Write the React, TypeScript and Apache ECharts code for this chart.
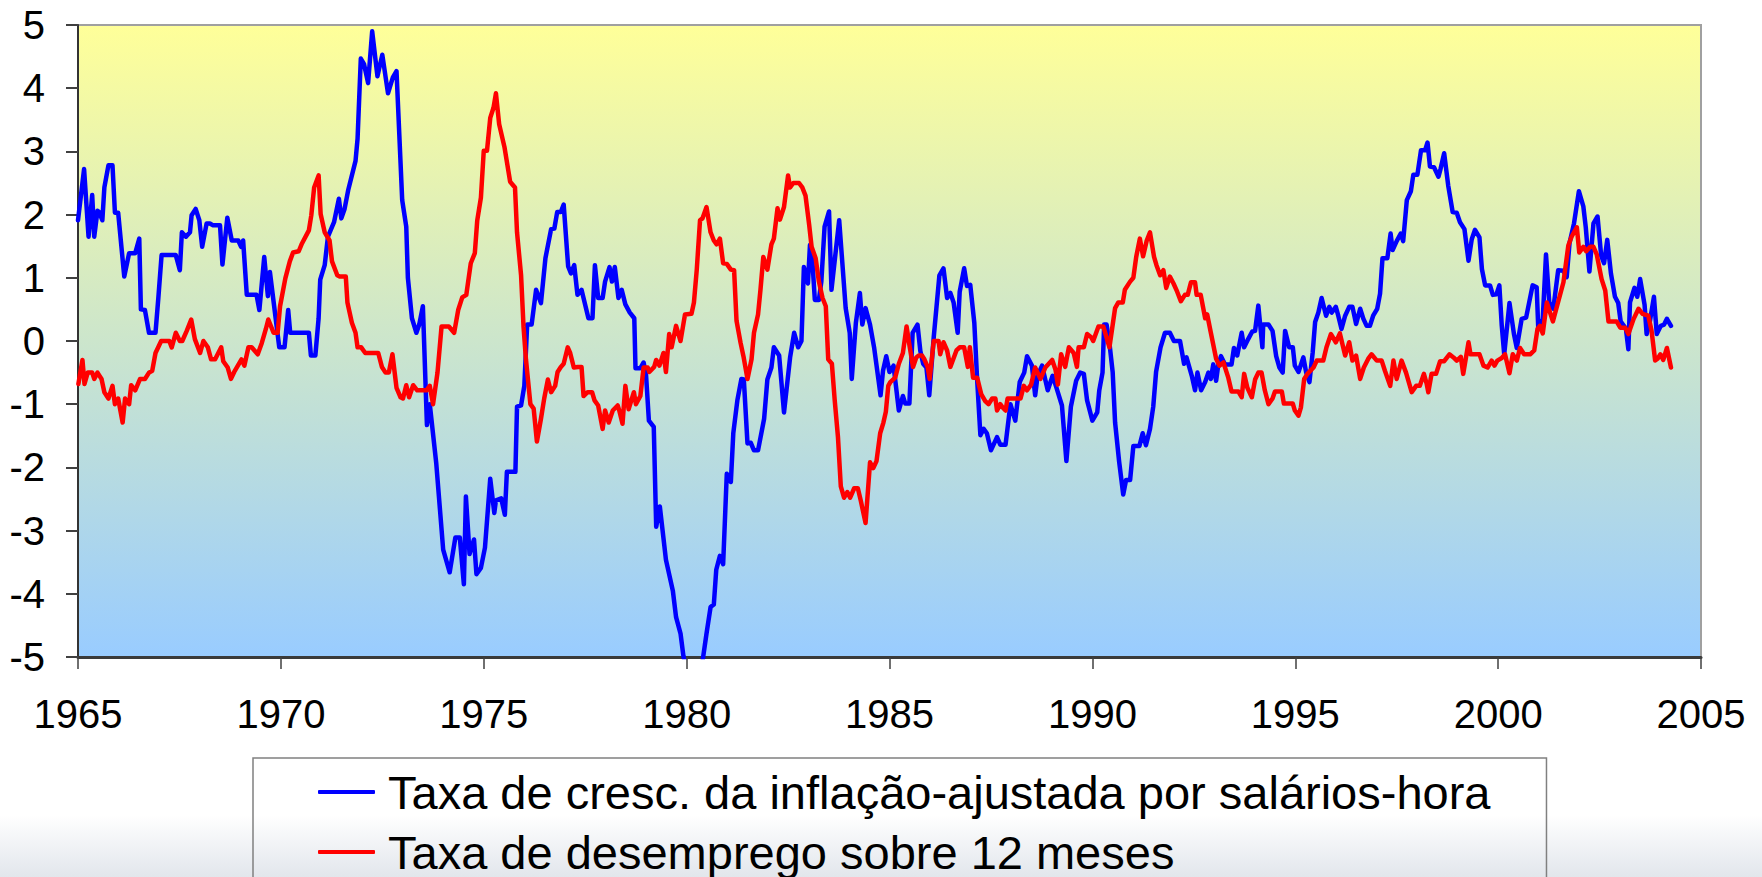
import React, { useEffect, useRef } from "react";
import * as echarts from "echarts";

// ---- Data: [year, value] ----
const wageGrowth1965: [number, number][] = [
  [1965.00,1.91],[1965.15,2.72],[1965.26,1.65],[1965.35,2.31],[1965.40,1.65],[1965.48,2.06],[1965.52,2.04],[1965.60,1.91],[1965.65,2.43],[1965.75,2.78],[1965.85,2.78],[1965.91,2.03],[1965.99,2.03],[1966.14,1.02],[1966.26,1.39],[1966.41,1.39],[1966.51,1.62],[1966.55,0.50],[1966.65,0.49],[1966.75,0.13],[1966.91,0.13],[1966.98,0.68],[1967.06,1.36],[1967.41,1.36],[1967.51,1.12],[1967.56,1.72],[1967.66,1.65],[1967.76,1.72],[1967.80,1.99],[1967.90,2.09],[1967.99,1.91],[1968.06,1.49],[1968.17,1.86],[1968.25,1.86],[1968.33,1.83],[1968.50,1.83],[1968.56,1.21],[1968.68,1.95],[1968.79,1.59],[1968.95,1.59],[1969.02,1.49],[1969.07,1.59],[1969.16,0.73],[1969.40,0.73],[1969.47,0.49],[1969.59,1.33],[1969.68,0.71],[1969.73,1.09],[1969.96,-0.10],[1970.09,-0.10],[1970.18,0.49],[1970.23,0.13],[1970.69,0.13],[1970.74,-0.23],[1970.85,-0.23],[1970.93,0.36],[1970.97,0.97],[1971.08,1.20],[1971.16,1.65],[1971.31,1.88],[1971.43,2.25],[1971.49,1.94],[1971.57,2.09],[1971.66,2.39],[1971.84,2.85],[1971.89,3.20],[1971.97,4.47],[1972.05,4.38],[1972.15,4.08],[1972.25,4.90],[1972.38,4.19],[1972.50,4.53],[1972.64,3.92],[1972.76,4.17],[1972.85,4.27],[1972.99,2.23],[1973.09,1.81],[1973.13,1.00],[1973.23,0.36],[1973.34,0.13],[1973.41,0.26],[1973.50,0.55],[1973.60,-1.33],[1973.67,-1.00],[1973.83,-1.94],[1974.00,-3.30],[1974.16,-3.66],[1974.30,-3.11],[1974.41,-3.11],[1974.51,-3.85],[1974.56,-2.46],[1974.65,-3.37],[1974.76,-3.14],[1974.82,-3.69],[1974.93,-3.59]
];
const wageGrowth1975: [number, number][] = [
  [1975.03,-3.27],[1975.16,-2.18],[1975.26,-2.72],[1975.30,-2.52],[1975.43,-2.49],[1975.52,-2.75],[1975.57,-2.07],[1975.78,-2.07],[1975.82,-1.04],[1975.92,-1.02],[1976.00,-0.71],[1976.07,0.26],[1976.18,0.26],[1976.29,0.81],[1976.41,0.60],[1976.52,1.31],[1976.66,1.77],[1976.74,1.78],[1976.81,2.04],[1976.90,2.04],[1976.97,2.16],[1977.08,1.18],[1977.15,1.07],[1977.23,1.20],[1977.31,0.73],[1977.41,0.81],[1977.58,0.36],[1977.68,0.36],[1977.74,1.20],[1977.82,0.68],[1977.93,0.68],[1977.99,0.94],[1978.10,1.17],[1978.16,0.94],[1978.23,1.17],[1978.32,0.68],[1978.40,0.81],[1978.49,0.58],[1978.60,0.45],[1978.71,0.36],[1978.74,-0.43],[1978.86,-0.43],[1978.94,-0.34],[1979.00,-0.54],[1979.07,-1.26],[1979.19,-1.36],[1979.25,-2.94],[1979.34,-2.62],[1979.49,-3.46],[1979.66,-3.95],[1979.74,-4.37],[1979.85,-4.63],[1979.92,-4.98],[1980.05,-5.4],[1980.25,-5.7],[1980.49,-4.63],[1980.59,-4.21],[1980.67,-4.17],[1980.73,-3.62],[1980.82,-3.40],[1980.90,-3.53],[1980.99,-2.10],[1981.09,-2.23],[1981.15,-1.46],[1981.25,-0.94],[1981.35,-0.60],[1981.41,-0.61],[1981.50,-1.62],[1981.58,-1.61],[1981.66,-1.73],[1981.76,-1.73],[1981.91,-1.23],[1981.99,-0.61],[1982.09,-0.42],[1982.15,-0.10],[1982.28,-0.23],[1982.40,-1.13],[1982.55,-0.26],[1982.65,0.13],[1982.75,-0.10],[1982.83,0.0],[1982.89,1.17],[1982.99,0.91],[1983.04,1.52],[1983.10,1.26],[1983.16,0.65],[1983.26,0.65],[1983.32,0.94],[1983.40,1.81],[1983.51,2.05],[1983.57,0.81],[1983.76,1.91],[1983.92,0.52],[1984.02,0.13],[1984.07,-0.60],[1984.17,0.28],[1984.27,0.76],[1984.33,0.26],[1984.41,0.52],[1984.52,0.26],[1984.62,-0.10],[1984.78,-0.86],[1984.84,-0.47],[1984.92,-0.24]
];
const wageGrowth1985: [number, number][] = [
  [1985.00,-0.49],[1985.10,-0.39],[1985.23,-1.10],[1985.33,-0.87],[1985.39,-0.99],[1985.49,-0.99],[1985.57,0.13],[1985.69,0.26],[1985.76,-0.16],[1985.83,-0.36],[1985.91,-0.42],[1985.98,-0.86],[1986.09,0.06],[1986.23,1.04],[1986.33,1.15],[1986.42,0.68],[1986.50,0.76],[1986.58,0.61],[1986.68,0.13],[1986.73,0.78],[1986.84,1.15],[1986.91,0.87],[1986.99,0.89],[1987.09,0.29],[1987.16,-0.61],[1987.24,-1.49],[1987.32,-1.39],[1987.40,-1.46],[1987.50,-1.73],[1987.65,-1.52],[1987.73,-1.64],[1987.86,-1.64],[1987.98,-1.00],[1988.10,-1.26],[1988.21,-0.65],[1988.32,-0.50],[1988.39,-0.24],[1988.51,-0.39],[1988.59,-0.86],[1988.65,-0.55],[1988.76,-0.39],[1988.90,-0.78],[1989.02,-0.55],[1989.11,-0.73],[1989.25,-1.02],[1989.36,-1.90],[1989.47,-1.04],[1989.60,-0.63],[1989.70,-0.50],[1989.79,-0.52],[1989.87,-0.94],[1990.00,-1.26],[1990.12,-1.13],[1990.17,-0.78],[1990.25,-0.50],[1990.29,0.26],[1990.35,0.26],[1990.42,-0.03],[1990.50,-0.49],[1990.56,-1.29],[1990.66,-1.91],[1990.76,-2.43],[1990.83,-2.20],[1990.93,-2.20],[1991.01,-1.66],[1991.16,-1.66],[1991.24,-1.46],[1991.32,-1.65],[1991.42,-1.39],[1991.50,-1.04],[1991.57,-0.49],[1991.68,-0.10],[1991.79,0.13],[1991.91,0.13],[1992.01,0.0],[1992.16,0.0],[1992.26,-0.36],[1992.32,-0.26],[1992.45,-0.55],[1992.53,-0.78],[1992.59,-0.50],[1992.68,-0.78],[1992.78,-0.65],[1992.86,-0.50],[1992.92,-0.60],[1992.98,-0.37],[1993.05,-0.63],[1993.10,-0.39],[1993.17,-0.24],[1993.27,-0.37],[1993.43,-0.37],[1993.49,-0.11],[1993.57,-0.23],[1993.68,0.13],[1993.74,-0.10],[1993.84,0.03],[1993.94,0.15],[1994.01,0.16],[1994.09,0.56],[1994.19,-0.10],[1994.21,0.26],[1994.34,0.26],[1994.44,0.16],[1994.53,-0.24],[1994.61,-0.42],[1994.69,-0.50],[1994.75,0.16],[1994.85,-0.10],[1994.94,-0.10],[1994.99,-0.39]
];
const wageGrowth1995: [number, number][] = [
  [1995.08,-0.49],[1995.20,-0.26],[1995.27,-0.50],[1995.35,-0.65],[1995.43,-0.18],[1995.49,0.30],[1995.57,0.45],[1995.65,0.68],[1995.76,0.40],[1995.84,0.54],[1995.90,0.45],[1996.00,0.54],[1996.06,0.40],[1996.14,0.19],[1996.23,0.40],[1996.33,0.54],[1996.41,0.54],[1996.50,0.27],[1996.60,0.51],[1996.68,0.35],[1996.76,0.24],[1996.84,0.24],[1996.92,0.40],[1997.02,0.51],[1997.09,0.75],[1997.15,1.31],[1997.27,1.31],[1997.35,1.70],[1997.40,1.44],[1997.50,1.58],[1997.60,1.70],[1997.66,1.58],[1997.75,2.23],[1997.85,2.37],[1997.91,2.63],[1998.01,2.63],[1998.10,3.02],[1998.20,3.02],[1998.26,3.14],[1998.32,2.76],[1998.42,2.75],[1998.53,2.60],[1998.58,2.72],[1998.67,2.97],[1998.77,2.46],[1998.88,2.04],[1998.98,2.03],[1999.06,1.88],[1999.17,1.77],[1999.27,1.27],[1999.35,1.61],[1999.43,1.76],[1999.54,1.64],[1999.60,1.14],[1999.68,0.88],[1999.80,0.88],[1999.87,0.73],[1999.96,0.74],[2000.03,0.88],[2000.09,0.24],[2000.15,-0.21],[2000.28,0.60],[2000.39,0.11],[2000.46,-0.11],[2000.58,0.35],[2000.69,0.37],[2000.85,0.88],[2000.95,0.85],[2000.99,0.19],[2001.10,0.35],[2001.18,1.37],[2001.26,0.61],[2001.36,0.51],[2001.48,1.12],[2001.61,1.11],[2001.69,1.01],[2001.76,1.55],[2001.87,1.86],[2001.99,2.37],[2002.10,2.13],[2002.16,1.80],[2002.25,1.10],[2002.35,1.86],[2002.45,1.97],[2002.54,1.35],[2002.61,1.23],[2002.69,1.60],[2002.78,1.07],[2002.88,0.70],[2002.96,0.60],[2003.02,0.31],[2003.10,0.24],[2003.15,0.19],[2003.21,-0.13],[2003.25,0.61],[2003.36,0.84],[2003.43,0.70],[2003.50,0.98],[2003.61,0.57],[2003.66,0.11],[2003.73,0.27],[2003.84,0.70],[2003.91,0.11],[2004.01,0.24],[2004.09,0.26],[2004.16,0.35],[2004.26,0.24]
];

const unemployment1965: [number, number][] = [
  [1965.01,-0.68],[1965.11,-0.30],[1965.16,-0.68],[1965.24,-0.50],[1965.35,-0.50],[1965.40,-0.60],[1965.48,-0.50],[1965.58,-0.60],[1965.65,-0.81],[1965.75,-0.91],[1965.85,-0.71],[1965.91,-1.00],[1965.99,-0.91],[1966.10,-1.29],[1966.16,-0.91],[1966.26,-1.00],[1966.31,-0.70],[1966.41,-0.78],[1966.53,-0.60],[1966.65,-0.60],[1966.75,-0.50],[1966.83,-0.47],[1966.91,-0.19],[1967.05,0.0],[1967.25,0.0],[1967.31,-0.10],[1967.41,0.13],[1967.51,0.0],[1967.57,0.0],[1967.68,0.16],[1967.79,0.34],[1967.88,0.03],[1968.01,-0.19],[1968.09,0.0],[1968.20,-0.10],[1968.28,-0.29],[1968.38,-0.29],[1968.53,-0.10],[1968.58,-0.32],[1968.69,-0.42],[1968.77,-0.60],[1968.85,-0.49],[1969.03,-0.29],[1969.10,-0.39],[1969.20,-0.10],[1969.28,-0.10],[1969.43,-0.21],[1969.53,-0.03],[1969.63,0.19],[1969.69,0.34],[1969.82,0.13],[1969.92,0.13],[1969.98,0.55],[1970.11,0.99],[1970.22,1.26],[1970.30,1.40],[1970.44,1.42],[1970.51,1.53],[1970.69,1.75],[1970.75,1.99],[1970.82,2.43],[1970.93,2.62],[1970.98,2.01],[1971.08,1.72],[1971.20,1.59],[1971.26,1.26],[1971.39,1.04],[1971.45,1.02],[1971.60,1.02],[1971.64,0.61],[1971.75,0.29],[1971.84,0.13],[1971.89,-0.10],[1971.98,-0.10],[1972.08,-0.19],[1972.40,-0.19],[1972.49,-0.41],[1972.58,-0.50],[1972.66,-0.50],[1972.75,-0.21],[1972.85,-0.74],[1972.95,-0.89],[1973.01,-0.91],[1973.09,-0.70],[1973.16,-0.89],[1973.26,-0.70],[1973.36,-0.78],[1973.59,-0.78],[1973.67,-0.71],[1973.75,-1.00],[1973.86,-0.50],[1973.96,0.23],[1974.14,0.23],[1974.27,0.13],[1974.37,0.49],[1974.47,0.69],[1974.57,0.73],[1974.68,1.23],[1974.78,1.39],[1974.84,1.91],[1974.93,2.27]
];
const unemployment1975: [number, number][] = [
  [1975.00,3.01],[1975.08,3.01],[1975.16,3.53],[1975.24,3.69],[1975.30,3.92],[1975.38,3.43],[1975.51,3.07],[1975.65,2.52],[1975.77,2.43],[1975.82,1.72],[1975.92,1.04],[1975.98,0.23],[1976.04,-0.29],[1976.15,-1.00],[1976.23,-1.07],[1976.31,-1.59],[1976.41,-1.23],[1976.49,-0.91],[1976.58,-0.61],[1976.66,-0.81],[1976.76,-0.71],[1976.82,-0.49],[1976.90,-0.41],[1976.97,-0.36],[1977.07,-0.10],[1977.13,-0.19],[1977.22,-0.42],[1977.32,-0.41],[1977.41,-0.41],[1977.46,-0.87],[1977.56,-0.81],[1977.67,-0.81],[1977.73,-0.94],[1977.82,-1.02],[1977.93,-1.39],[1977.99,-1.10],[1978.08,-1.29],[1978.18,-1.10],[1978.30,-1.02],[1978.34,-1.10],[1978.42,-1.31],[1978.49,-0.71],[1978.57,-1.08],[1978.70,-0.81],[1978.75,-1.00],[1978.86,-0.87],[1978.94,-0.42],[1979.04,-0.42],[1979.08,-0.49],[1979.20,-0.41],[1979.25,-0.30],[1979.33,-0.39],[1979.43,-0.19],[1979.49,-0.49],[1979.57,0.11],[1979.63,-0.10],[1979.74,0.24],[1979.85,0.0],[1979.96,0.42],[1980.12,0.43],[1980.18,0.61],[1980.25,1.13],[1980.33,1.91],[1980.39,1.94],[1980.49,2.12],[1980.59,1.72],[1980.67,1.59],[1980.74,1.53],[1980.82,1.62],[1980.90,1.23],[1980.99,1.22],[1981.09,1.13],[1981.17,1.12],[1981.23,0.32],[1981.33,-0.03],[1981.40,-0.24],[1981.50,-0.60],[1981.60,-0.29],[1981.66,0.13],[1981.76,0.42],[1981.82,0.81],[1981.89,1.33],[1981.99,1.13],[1982.09,1.53],[1982.15,1.62],[1982.24,2.10],[1982.30,1.92],[1982.40,2.12],[1982.50,2.62],[1982.55,2.43],[1982.63,2.50],[1982.77,2.50],[1982.85,2.43],[1982.93,2.30],[1983.02,1.84],[1983.08,1.49],[1983.18,1.31],[1983.26,0.94],[1983.35,0.68],[1983.43,0.55],[1983.49,-0.29],[1983.58,-0.36],[1983.65,-0.94],[1983.73,-1.52],[1983.80,-2.30],[1983.88,-2.48],[1983.96,-2.39],[1984.03,-2.48],[1984.13,-2.33],[1984.22,-2.33],[1984.29,-2.52],[1984.41,-2.88],[1984.52,-1.92],[1984.60,-2.01],[1984.68,-1.90],[1984.77,-1.46],[1984.85,-1.29],[1984.91,-1.12],[1984.97,-0.71]
];
const unemployment1985: [number, number][] = [
  [1985.02,-0.65],[1985.14,-0.58],[1985.23,-0.36],[1985.33,-0.19],[1985.42,0.23],[1985.50,-0.10],[1985.58,-0.41],[1985.66,-0.26],[1985.72,-0.23],[1985.80,-0.23],[1985.86,-0.29],[1985.94,-0.41],[1985.99,-0.60],[1986.09,0.0],[1986.21,0.0],[1986.25,-0.21],[1986.33,-0.02],[1986.42,-0.15],[1986.50,-0.41],[1986.65,-0.15],[1986.73,-0.10],[1986.84,-0.10],[1986.93,-0.41],[1986.98,-0.10],[1987.06,-0.58],[1987.16,-0.58],[1987.26,-0.84],[1987.36,-0.95],[1987.44,-1.00],[1987.53,-0.91],[1987.61,-0.91],[1987.65,-1.10],[1987.73,-1.00],[1987.80,-1.06],[1987.86,-1.10],[1987.91,-0.91],[1988.23,-0.91],[1988.31,-0.71],[1988.39,-0.78],[1988.49,-0.69],[1988.59,-0.42],[1988.72,-0.60],[1988.84,-0.42],[1989.01,-0.30],[1989.09,-0.45],[1989.15,-0.69],[1989.23,-0.21],[1989.33,-0.41],[1989.42,-0.10],[1989.54,-0.19],[1989.62,-0.41],[1989.66,-0.10],[1989.79,-0.10],[1989.87,0.11],[1989.97,0.06],[1990.02,0.0],[1990.15,0.23],[1990.27,0.23],[1990.42,-0.10],[1990.56,0.52],[1990.64,0.61],[1990.75,0.61],[1990.80,0.81],[1990.93,0.94],[1991.01,1.00],[1991.08,1.33],[1991.17,1.62],[1991.25,1.34],[1991.34,1.59],[1991.42,1.72],[1991.52,1.33],[1991.58,1.20],[1991.67,1.04],[1991.75,1.12],[1991.82,0.84],[1991.91,1.02],[1992.00,0.91],[1992.09,0.78],[1992.18,0.63],[1992.28,0.73],[1992.35,0.73],[1992.43,0.93],[1992.53,0.93],[1992.57,0.73],[1992.67,0.73],[1992.78,0.36],[1992.83,0.42],[1992.92,0.13],[1993.05,-0.28],[1993.13,-0.39],[1993.23,-0.34],[1993.35,-0.58],[1993.43,-0.80],[1993.60,-0.80],[1993.68,-0.89],[1993.74,-0.52],[1993.82,-0.74],[1993.93,-0.89],[1994.01,-0.61],[1994.09,-0.50],[1994.17,-0.50],[1994.25,-0.78],[1994.34,-1.00],[1994.44,-0.91],[1994.50,-0.80],[1994.67,-0.80],[1994.72,-0.99],[1994.94,-0.99],[1994.99,-1.10]
];
const unemployment1995: [number, number][] = [
  [1995.08,-1.18],[1995.14,-1.05],[1995.22,-0.60],[1995.30,-0.52],[1995.45,-0.42],[1995.53,-0.31],[1995.69,-0.31],[1995.77,-0.10],[1995.88,0.11],[1996.00,-0.02],[1996.10,0.12],[1996.23,-0.23],[1996.33,-0.02],[1996.41,-0.31],[1996.50,-0.23],[1996.60,-0.60],[1996.69,-0.42],[1996.80,-0.28],[1996.88,-0.21],[1997.01,-0.31],[1997.13,-0.31],[1997.21,-0.47],[1997.34,-0.71],[1997.42,-0.31],[1997.50,-0.60],[1997.62,-0.31],[1997.73,-0.50],[1997.87,-0.81],[1997.98,-0.71],[1998.07,-0.71],[1998.17,-0.52],[1998.24,-0.68],[1998.28,-0.81],[1998.36,-0.52],[1998.47,-0.52],[1998.57,-0.32],[1998.67,-0.32],[1998.80,-0.21],[1998.90,-0.26],[1998.98,-0.31],[1999.08,-0.25],[1999.14,-0.52],[1999.27,-0.02],[1999.32,-0.21],[1999.54,-0.21],[1999.64,-0.39],[1999.74,-0.42],[1999.84,-0.31],[1999.91,-0.39],[1999.98,-0.31],[2000.09,-0.27],[2000.17,-0.21],[2000.28,-0.51],[2000.36,-0.21],[2000.46,-0.31],[2000.54,-0.11],[2000.64,-0.21],[2000.79,-0.21],[2000.89,-0.15],[2000.97,0.19],[2001.03,0.24],[2001.10,0.12],[2001.20,0.61],[2001.26,0.49],[2001.35,0.31],[2001.61,0.93],[2001.73,1.51],[2001.81,1.65],[2001.94,1.80],[2002.00,1.40],[2002.10,1.49],[2002.17,1.42],[2002.27,1.49],[2002.35,1.49],[2002.43,1.37],[2002.55,0.98],[2002.64,0.80],[2002.72,0.31],[2002.92,0.31],[2003.01,0.21],[2003.13,0.21],[2003.21,0.11],[2003.34,0.35],[2003.46,0.51],[2003.56,0.43],[2003.70,0.40],[2003.78,0.17],[2003.87,-0.31],[2003.93,-0.28],[2004.00,-0.21],[2004.07,-0.30],[2004.16,-0.11],[2004.26,-0.42]
];

const seriesNames = [
  "Taxa de cresc. da inflação-ajustada por salários-hora",
  "Taxa de desemprego sobre 12 meses",
];
const xMin = 1965;
const xMax = 2005;
const xInterval = 5;
const yMin = -5;
const yMax = 5;
const yInterval = 1;

const FONT = "'Liberation Sans', Arial, Helvetica, sans-serif";

export default function App() {
  const ref = useRef<HTMLDivElement>(null);

  useEffect(() => {
    if (!ref.current) return;
    const chart = echarts.init(ref.current, undefined, { renderer: "svg" });
    const wage = [...wageGrowth1965, ...wageGrowth1975, ...wageGrowth1985, ...wageGrowth1995];
    const unemp = [...unemployment1965, ...unemployment1975, ...unemployment1985, ...unemployment1995];

    chart.setOption({
      animation: false,
      grid: {
        left: 78,
        right: 61,
        top: 25,
        bottom: 220,
        containLabel: false,
        outerBoundsMode: "none",
        show: true,
        borderColor: "#a0a0a0",
        borderWidth: 2,
        backgroundColor: new echarts.graphic.LinearGradient(0, 0, 0, 1, [
          { offset: 0, color: "#FFFF99" },
          { offset: 1, color: "#99CCFF" },
        ]),
      },
      legend: {
        orient: "vertical",
        left: 253,
        top: 758,
        width: 1300,
        height: 140,
        padding: [8, 56, 40, 65],
        itemGap: 8,
        itemWidth: 57,
        itemHeight: 4,
        icon: "roundRect",
        borderColor: "#808080",
        borderWidth: 1.5,
        backgroundColor: "transparent",
        data: seriesNames,
        textStyle: {
          fontSize: 47,
          fontFamily: FONT,
          color: "#000",
          lineHeight: 52,
          padding: [0, 0, 0, 8],
        },
      },
      xAxis: {
        type: "value",
        min: xMin,
        max: xMax,
        interval: xInterval,
        axisLine: { show: true, onZero: false, lineStyle: { color: "#3a3a3a", width: 3 } },
        axisTick: { show: true, length: 12, lineStyle: { color: "#404040", width: 1.5 } },
        splitLine: { show: false },
        axisLabel: {
          fontSize: 40,
          fontFamily: FONT,
          color: "#000",
          margin: 37,
          formatter: (v: number) => String(v),
        },
      },
      yAxis: {
        type: "value",
        min: yMin,
        max: yMax,
        interval: yInterval,
        axisLine: { show: true, lineStyle: { color: "#333", width: 2 } },
        axisTick: { show: true, length: 12, lineStyle: { color: "#404040", width: 2 } },
        splitLine: { show: false },
        axisLabel: {
          fontSize: 40,
          fontFamily: FONT,
          color: "#000",
          margin: 33,
        },
      },
      series: [
        {
          name: seriesNames[0],
          type: "line",
          data: wage,
          showSymbol: false,
          symbol: "none",
          clip: true,
          color: "#0000FF",
          lineStyle: { color: "#0000FF", width: 4.5, cap: "round", join: "round" },
          z: 2,
        },
        {
          name: seriesNames[1],
          type: "line",
          data: unemp,
          showSymbol: false,
          symbol: "none",
          clip: true,
          color: "#FF0000",
          lineStyle: { color: "#FF0000", width: 4.5, cap: "round", join: "round" },
          z: 3,
        },
      ],
    });

    return () => chart.dispose();
  }, []);

  return (
    <div
      ref={ref}
      style={{
        position: "absolute",
        left: 0,
        top: 0,
        width: 1762,
        height: 877,
        background:
          "linear-gradient(to bottom, #ffffff 0px, #ffffff 815px, #e2e6ec 877px)",
      }}
    />
  );
}
